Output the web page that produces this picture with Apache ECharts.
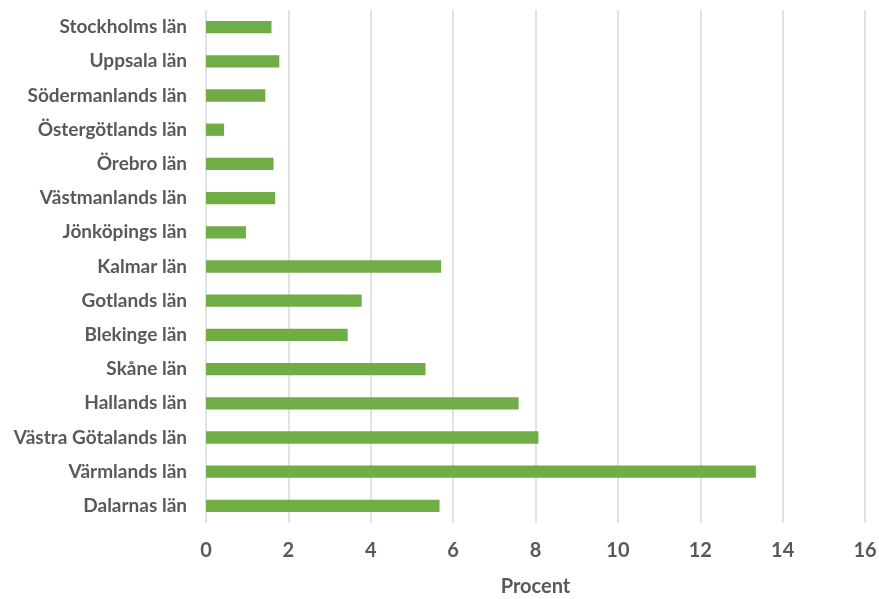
<!DOCTYPE html>
<html>
<head>
<meta charset="utf-8">
<script src="https://cdn.jsdelivr.net/npm/echarts@6/dist/echarts.min.js"></script>
<style>
  html, body { margin: 0; padding: 0; background: #fff; }
  #chart { width: 879px; height: 599px; }
</style>
</head>
<body>
<div id="chart"></div>
<script>
// län, top to bottom
const counties = [
  "Stockholms län", "Uppsala län", "Södermanlands län", "Östergötlands län",
  "Örebro län", "Västmanlands län", "Jönköpings län", "Kalmar län",
  "Gotlands län", "Blekinge län", "Skåne län", "Hallands län",
  "Västra Götalands län", "Värmlands län", "Dalarnas län"
];
const percent = [1.59, 1.78, 1.44, 0.44, 1.64, 1.68, 0.97, 5.71,
  3.78, 3.44, 5.33, 7.59, 8.07, 13.35, 5.67];

const textColor = "#595959";
const fontFamily = "Lato, 'Noto Sans', sans-serif";

const chart = echarts.init(document.getElementById("chart"));
chart.setOption({
  animation: false,
  grid: { left: 206, right: 14, top: 10, bottom: 76, containLabel: false, outerBoundsMode: "none" },
  xAxis: {
    type: "value",
    min: 0,
    max: 16,
    interval: 2,
    name: "Procent",
    nameLocation: "middle",
    nameGap: 54,
    nameTextStyle: { color: textColor, fontSize: 20, fontWeight: "bold", fontFamily: fontFamily },
    axisLine: { show: false },
    axisTick: { show: false },
    axisLabel: { color: textColor, fontSize: 20, fontWeight: "bold", fontFamily: fontFamily, margin: 18 },
    splitLine: { show: true, lineStyle: { color: "#d9d9d9", width: 1.5 } }
  },
  yAxis: {
    type: "category",
    inverse: true,
    data: counties,
    axisLine: { show: false },
    axisTick: { show: false },
    axisLabel: { color: textColor, fontSize: 19, fontWeight: "bold", fontFamily: fontFamily, margin: 19 }
  },
  series: [{
    type: "bar",
    data: percent,
    barWidth: "36%",
    itemStyle: { color: "#70ad47" }
  }]
});
</script>
</body>
</html>
